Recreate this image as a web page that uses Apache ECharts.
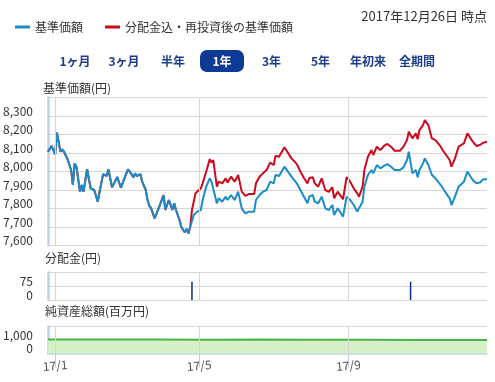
<!DOCTYPE html>
<html><head><meta charset="utf-8">
<script src="https://cdn.jsdelivr.net/npm/echarts@6/dist/echarts.min.js"></script>
<style>html,body{margin:0;padding:0;background:#fff;}#c{width:495px;height:382px;}</style>
</head><body><div id="c"></div>
<script>
// ---- calendar (trading days) ----
const firstDay = '2016-12-27';
const lastDay = '2017-12-26';
const holidays = ['2017-01-02','2017-01-03','2017-01-09','2017-03-20','2017-05-03','2017-05-04','2017-05-05',
  '2017-07-17','2017-08-11','2017-09-18','2017-10-09','2017-11-03','2017-11-23'];
const tickMonths = ['2017-01','2017-05','2017-09'];
const titleText = '2017年12月26日 時点';
const periodButtons = ['1ヶ月','3ヶ月','半年','1年','3年','5年','年初来','全期間'];
const selectedButton = '1年';

// ---- 基準価額 (trading-day index, value) ----
const navDay = [0,2,4,5,7,8,9,11,13,14,15,16,18,19,20,22,24,26,28,29,31,33,34,36,39,41,43,45,47,48,49,50,52,53,55,56,57,58,60,63,65,66,68,70,71,72,74,75,77,78,79,80,
  82,84,86,87,89,91,92,93,95,96,98,100,101,103,105,107,109,111,113,116,117,119,121,123,125,127,128,130,133,137,140,142,144,146,147,149,150,152,154,156,158,160,161,163,166,168,170,172,174,175,177,178,180,182,183,185,187,189,191,193,195,198,200,202,203,
  205,207,208,209,211,212,214,216,218,221,222,224,226,227,229,231,234,236,237,239,241,243,245,247];
const navValue = [8107,8138,8093,8210,8107,8120,8107,8066,8008,7927,8044,8026,7891,7927,7891,8012,7909,7900,7837,7889,7985,7976,8012,7914,7970,7912,7963,8012,7986,7969,7990,7975,7986,7945,7900,7846,7815,7801,7747,7820,7873,7792,7846,7792,7828,7792,7738,7700,7670,7690,7665,7700,
  7765,7783,7792,7846,7918,7963,7945,7954,7828,7855,7837,7864,7846,7873,7846,7891,7801,7774,7783,7783,7846,7873,7891,7900,7945,7936,7981,7976,8026,7972,7936,7900,7864,7828,7864,7873,7837,7828,7864,7801,7792,7819,7765,7801,7756,7864,7846,7819,7783,7774,7837,7918,7981,8008,7990,8035,8017,8030,8040,8026,8008,8008,8022,8062,8107,
  7990,8008,7969,8008,8044,8071,8035,7981,7963,7927,7918,7882,7855,7819,7864,7918,7945,7999,7994,7954,7936,7940,7958,7958];

// ---- 分配金込・再投資後の基準価額 (from the split onward; identical to 基準価額 before) ----
const reinvDay = [81,83,86,87,89,91,92,93,95,96,98,100,101,103,105,107,109,111,113,116,117,119,121,123,125,127,128,130,133,137,140,142,144,146,147,149,150,152,154,156,158,160,161,163,166,168,170,172,174,175,177,178,180,182,183,185,187,189,191,193,195,198,200,202,203,
  205,207,208,209,211,212,214,216,218,221,222,224,226,227,229,231,234,236,237,239,241,243,245,247];
const reinvValue = [7792,7882,7909,7936,7999,8066,8048,8062,7918,7945,7936,7963,7940,7972,7945,7981,7891,7868,7878,7878,7936,7972,7990,8008,8048,8035,8084,8080,8131,8071,8040,8000,7965,7936,7965,7969,7937,7918,7963,7900,7890,7915,7855,7891,7850,7969,7945,7909,7882,7864,7918,8008,8080,8116,8089,8134,8116,8138,8149,8134,8112,8112,8134,8170,8215,
  8179,8206,8174,8224,8251,8278,8251,8179,8170,8134,8116,8089,8062,8026,8071,8134,8152,8206,8197,8161,8138,8143,8156,8161];

// ---- 分配金 ----
const distDay = [81,204];
const distValue = [100,100];

// ---- 純資産総額 ----
const assetDay = [0,30,60,90,120,150,180,210,247];
const assetValue = [1045,1040,1035,1025,1030,1020,1015,1005,1000];

// ---- build category list ----
const dates = [];
(function(){
  const s = firstDay.split('-').map(Number), e = lastDay.split('-').map(Number);
  let t = Date.UTC(s[0], s[1]-1, s[2]);
  const end = Date.UTC(e[0], e[1]-1, e[2]);
  while (t <= end) {
    const d = new Date(t);
    const wd = d.getUTCDay();
    const str = d.toISOString().slice(0,10);
    if (wd !== 0 && wd !== 6 && holidays.indexOf(str) < 0) dates.push(str);
    t += 86400000;
  }
})();
const tickIdx = tickMonths.map(m => dates.findIndex(d => d.slice(0,7) === m));
const isTick = (i) => tickIdx.indexOf(i) >= 0;

function pairs(days, vals){ return days.map((d,i)=>[d, vals[i]]); }
const navData = pairs(navDay, navValue);
const reinvData = pairs(navDay.filter(d => d < reinvDay[0]), navValue.filter((v,i)=>navDay[i] < reinvDay[0])).concat(pairs(reinvDay, reinvValue));

function comma(v){ return String(v).replace(/\B(?=(\d{3})+(?!\d))/g, ','); }

const FONT = '"Noto Sans CJK JP", "Noto Sans", sans-serif';
const axisBlue = '#c2d0e4';
const gridGray = '#d6d6d6';

const chart = echarts.init(document.getElementById('c'));

const gridsY = [[97.5, 148], [272.5, 27.5], [326.5, 27]];
const xAxes = gridsY.map((g, k) => ({
  type: 'category', gridIndex: k, data: dates, boundaryGap: false,
  axisLine: { show: k === 2, lineStyle: { color: axisBlue, width: 1.5 } },
  axisTick: { show: k === 2, interval: (i) => isTick(i), length: 14, lineStyle: { color: axisBlue } },
  axisLabel: { show: k === 2, interval: (i) => isTick(i), margin: 12, color: '#555', fontSize: 12, fontFamily: FONT,
    rotate: 5, align: 'center',
    formatter: (v) => v.slice(2,4) + '/' + parseInt(v.slice(5,7), 10) },
  splitLine: { show: false }
}));

function yAx(k, min, max, interval){
  return {
    type: 'value', gridIndex: k, min, max, interval,
    axisLine: { show: true, lineStyle: { color: axisBlue, width: 2.5 } },
    axisTick: { show: false },
    splitLine: { show: true, lineStyle: { color: gridGray } },
    axisLabel: { margin: 15, color: '#333', fontSize: 12, fontFamily: FONT, verticalAlign: 'bottom', lineHeight: 10,
      formatter: (v) => v === max ? '' : comma(v) }
  };
}

function vGrid(k){
  return { type: 'line', xAxisIndex: k, yAxisIndex: k, data: [], z: 1, silent: true,
    markLine: { silent: true, animation: false, symbol: ['none','none'], label: { show: false },
      lineStyle: { color: gridGray, width: 1, type: 'solid' },
      data: tickIdx.map(i => ({ xAxis: dates[i] })) } };
}

const btnGraphics = [];
const btnX = [75, 124, 173, 222, 271.5, 320.5, 368, 417];
periodButtons.forEach((b, i) => {
  if (b === selectedButton) {
    btnGraphics.push({ type: 'rect', shape: { x: btnX[i]-22, y: 50, width: 44, height: 22, r: 7 }, style: { fill: '#0c3a95' } });
  }
  btnGraphics.push({ type: 'text', x: btnX[i], y: 61, style: { text: b, fill: b === selectedButton ? '#fff' : '#1c3c8c',
    font: 'bold 12px ' + FONT, textAlign: 'center', textVerticalAlign: 'middle' } });
});

chart.setOption({
  animation: false,
  textStyle: { fontFamily: FONT },
  legend: {
    left: 10, top: 16, icon: 'rect', itemWidth: 15, itemHeight: 3, itemGap: 22,
    data: ['基準価額', '分配金込・再投資後の基準価額'],
    textStyle: { fontSize: 12, color: '#333', fontFamily: FONT }
  },
  graphic: [
    { type: 'text', right: 8, top: 10, style: { text: titleText, fill: '#333', font: '13px ' + FONT } },
    { type: 'text', left: 43, top: 82, style: { text: '基準価額(円)', fill: '#333', font: '12px ' + FONT } },
    { type: 'text', left: 45, top: 252, style: { text: '分配金(円)', fill: '#333', font: '12px ' + FONT } },
    { type: 'text', left: 45, top: 305, style: { text: '純資産総額(百万円)', fill: '#333', font: '12px ' + FONT } }
  ].concat(btnGraphics),
  grid: gridsY.map(g => ({ left: 48, right: 8, top: g[0], height: g[1] })),
  xAxis: xAxes,
  yAxis: [yAx(0, 7600, 8400, 100), yAx(1, 0, 150, 75), yAx(2, 0, 2000, 1000)],
  series: [
    vGrid(0), vGrid(1), vGrid(2),
    { name: '分配金込・再投資後の基準価額', type: 'line', data: reinvData, showSymbol: false, symbol: 'none',
      lineStyle: { color: '#cc0a1e', width: 2 }, itemStyle: { color: '#cc0a1e' }, z: 2 },
    { name: '基準価額', type: 'line', data: navData, showSymbol: false, symbol: 'none',
      lineStyle: { color: '#1a8cc8', width: 2 }, itemStyle: { color: '#1a8cc8' }, z: 3 },
    { name: '分配金', type: 'bar', xAxisIndex: 1, yAxisIndex: 1, data: pairs(distDay, distValue), barWidth: 1.5,
      itemStyle: { color: '#0a2d8c' }, z: 3 },
    { name: '純資産総額', type: 'line', xAxisIndex: 2, yAxisIndex: 2, data: pairs(assetDay, assetValue), symbol: 'none',
      lineStyle: { color: '#4cb24c', width: 2 }, areaStyle: { color: '#d6f0c8', opacity: 1 }, z: 2 }
  ]
});
</script>
</body></html>
